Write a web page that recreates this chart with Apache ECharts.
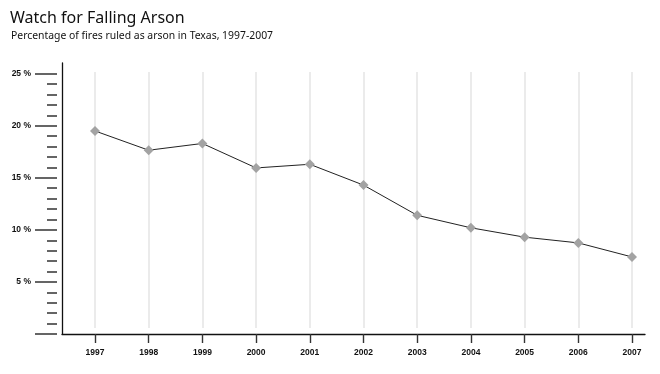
<!DOCTYPE html>
<html><head><meta charset="utf-8">
<script src="https://cdn.jsdelivr.net/npm/echarts@6/dist/echarts.min.js"></script>
<style>html,body{margin:0;padding:0;background:#fff}#c{width:660px;height:374px}</style>
</head><body><div id="c"></div>
<script>
var years = ['1997','1998','1999','2000','2001','2002','2003','2004','2005','2006','2007'];
var arsonPct = [19.5, 17.65, 18.3, 15.95, 16.3, 14.3, 11.4, 10.2, 9.3, 8.75, 7.4];
var yTicks = [5, 10, 15, 20, 25];
var titleText = 'Watch for Falling Arson';
var subtitleText = 'Percentage of fires ruled as arson in Texas, 1997-2007';

var chart = echarts.init(document.getElementById('c'), null, {renderer:'canvas'});
var lblFont = 'Liberation Sans, Arial, sans-serif';
chart.setOption({
  animation:false,
  backgroundColor:'#fff',
  title:[
    {text:titleText, left:10, top:10, padding:0, textStyle:{fontFamily:'Noto Sans', fontWeight:'normal', fontSize:16, color:'#111'}},
    {text:subtitleText, left:11, top:31, padding:0, textStyle:{fontFamily:'Noto Sans', fontWeight:'normal', fontSize:10.4, color:'#111'}}
  ],
  grid:[
    {left:62, right:15, top:63, bottom:40},
    {left:95, right:28, top:73.7, bottom:40},
    {left:95, right:28, top:72, bottom:46}
  ],
  xAxis:[
    {gridIndex:0, type:'value', min:0, max:1, axisLine:{show:true, lineStyle:{color:'#111', width:1.3}}, axisTick:{show:false}, axisLabel:{show:false}, splitLine:{show:false}},
    {gridIndex:1, type:'category', data:years, boundaryGap:false,
      axisLine:{show:false}, axisTick:{show:true, length:9, interval:0, lineStyle:{color:'#333', width:1.4}},
      axisLabel:{interval:0, margin:14, fontFamily:lblFont, fontWeight:'bold', fontSize:8.5, color:'#111'}, splitLine:{show:false}},
    {gridIndex:2, type:'category', data:years, boundaryGap:false,
      axisLine:{show:false}, axisTick:{show:false}, axisLabel:{show:false},
      splitLine:{show:true, interval:0, lineStyle:{color:'#e4e4e4', width:1.5}}}
  ],
  yAxis:[
    {gridIndex:0, type:'value', min:0, max:1, axisLine:{show:true, lineStyle:{color:'#111', width:1.3}}, axisTick:{show:false}, axisLabel:{show:false}, splitLine:{show:false}},
    {gridIndex:1, type:'value', min:0, max:25, interval:5, offset:38,
      axisLine:{show:false},
      axisTick:{show:true, length:22, lineStyle:{color:'#333', width:1.5}},
      minorTick:{show:true, splitNumber:5, length:10, lineStyle:{color:'#333', width:1.5}},
      axisLabel:{margin:26, fontFamily:lblFont, fontWeight:'bold', fontSize:8.5, color:'#111',
        formatter:function(v){ return yTicks.indexOf(v) >= 0 ? v + ' %' : ''; }},
      splitLine:{show:false}},
    {gridIndex:2, type:'value', min:0, max:1, show:false}
  ],
  series:[{
    type:'line', xAxisIndex:1, yAxisIndex:1, data:arsonPct,
    symbol:'diamond', symbolSize:10,
    itemStyle:{color:'#a3a3a3'},
    lineStyle:{color:'#222', width:1},
    z:5
  }]
});
</script></body></html>
